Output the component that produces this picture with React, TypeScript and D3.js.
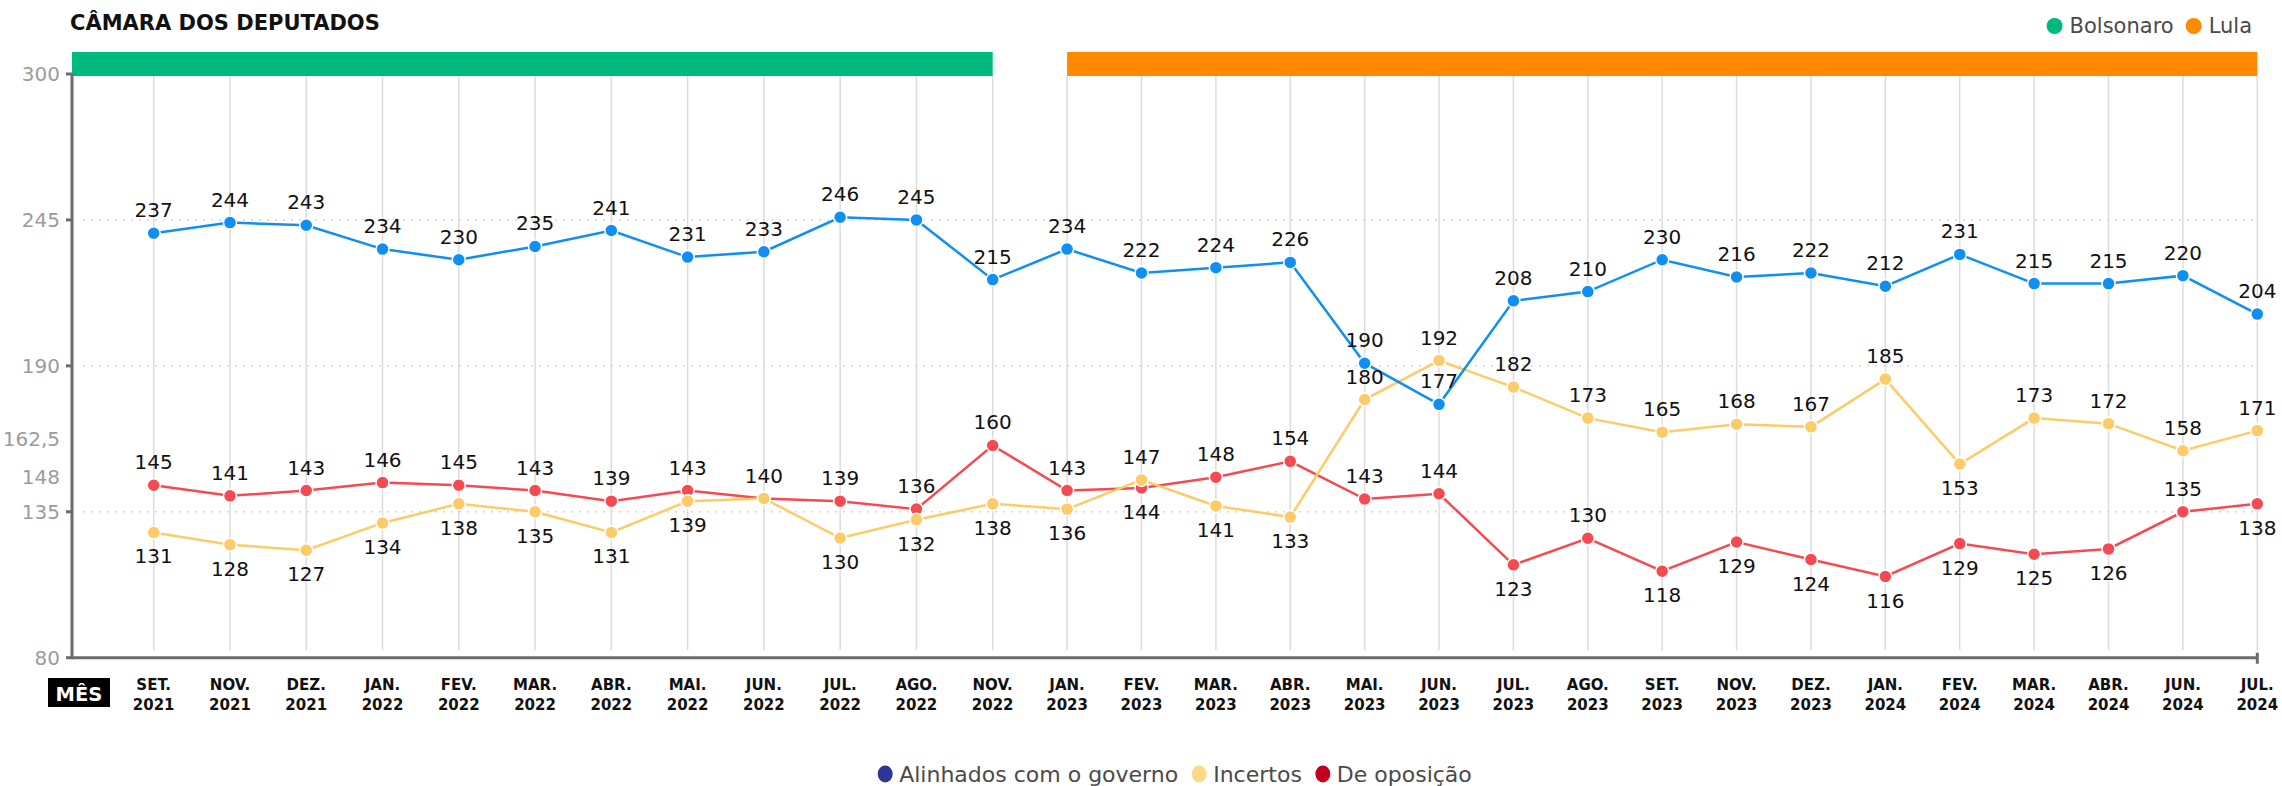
import React, { useEffect, useRef } from "react";
import * as d3 from "d3";

const categories = [
  "SET. 2021", "NOV. 2021", "DEZ. 2021", "JAN. 2022", "FEV. 2022", "MAR. 2022", "ABR. 2022",
  "MAI. 2022", "JUN. 2022", "JUL. 2022", "AGO. 2022", "NOV. 2022", "JAN. 2023", "FEV. 2023",
  "MAR. 2023", "ABR. 2023", "MAI. 2023", "JUN. 2023", "JUL. 2023", "AGO. 2023", "SET. 2023",
  "NOV. 2023", "DEZ. 2023", "JAN. 2024", "FEV. 2024", "MAR. 2024", "ABR. 2024", "JUN. 2024", "JUL. 2024",
];

// printed value labels
const alinhadosRotulos = [237, 244, 243, 234, 230, 235, 241, 231, 233, 246, 245, 215, 234, 222, 224, 226, 190, 177, 208, 210, 230, 216, 222, 212, 231, 215, 215, 220, 204];
const incertosRotulos = [131, 128, 127, 134, 138, 135, 131, 139, 140, 130, 132, 138, 136, 147, 141, 133, 180, 192, 182, 173, 165, 168, 167, 185, 153, 173, 172, 158, 171];
const oposicaoRotulos = [145, 141, 143, 146, 145, 143, 139, 143, 140, 139, 136, 160, 143, 144, 148, 154, 143, 144, 123, 130, 118, 129, 124, 116, 129, 125, 126, 135, 138];

const alinhados = [240, 244, 243, 234, 230, 235, 241, 231, 233, 246, 245, 222.5, 234, 225, 227, 229, 191, 175.5, 214.5, 218, 230, 223.5, 225, 220, 232, 221, 221, 224, 209.5];
const incertos = [127.2, 122.6, 120.5, 130.8, 138, 135, 127.2, 139, 140, 125.1, 132, 138, 136, 147, 137.2, 133, 177.3, 192, 182, 170.3, 165, 168, 167, 185, 153, 170.3, 168.2, 158, 165.6];
const oposicao = [145, 141, 143, 146, 145, 143, 139, 143, 140, 139, 136, 160, 143, 144, 148, 154, 139.8, 141.8, 115, 125, 112.6, 123.6, 117, 110.6, 123, 119, 121, 135, 138];

const yTicks = [300, 245, 190, 135, 80];
const yGridValues = [245, 190, 135];
const yExtraLabels = [162.5, 148];

const governments = [
  { name: "Bolsonaro", from: "SET. 2021", to: "NOV. 2022", color: "#00b97f", fromAxis: true },
  { name: "Lula", from: "JAN. 2023", to: "JUL. 2024", color: "#ff8a00", fromAxis: false },
];

const seriesLegend = [
  { name: "Alinhados com o governo", color: "#2c3696" },
  { name: "Incertos", color: "#ffd98a" },
  { name: "De oposição", color: "#c4001f" },
];

// label placement (which labels go under their point)
const incertosAboveIdx = [8, 13, 16, 17, 18, 19, 20, 21, 22, 23, 25, 26, 27, 28];
const oposicaoBelowIdx = [13, 18, 20, 21, 22, 23, 24, 25, 26, 28];

const W = 2282;
const H = 786;
const FONT = "'DejaVu Sans', sans-serif";

export default function App() {
  const ref = useRef<SVGSVGElement>(null);

  useEffect(() => {
    const svg = d3.select(ref.current);
    svg.selectAll("*").remove();

    const left = 72;
    const n = categories.length;
    const xi = d3.scaleLinear().domain([0, 11, n - 1]).range([153.7, 992.7, 2257.3]);
    const x = (c: string) => xi(categories.indexOf(c));
    const y = d3.scaleLinear().domain([80, 300]).range([657.7, 74]);
    const right = x(categories[n - 1]);

    const fmt = (v: number) => String(v).replace(".", ",");

    // title
    svg.append("text").attr("x", 70).attr("y", 30).attr("font-family", FONT)
      .attr("font-weight", 700).attr("font-size", 21).attr("fill", "#111")
      .text("CÂMARA DOS DEPUTADOS");

    // top legend (right aligned)
    {
      const g = svg.append("g");
      let cx = 2252;
      const items = governments.slice().reverse();
      items.forEach((it) => {
        const t = g.append("text").attr("font-family", FONT).attr("font-size", 21)
          .attr("fill", "#4a4a4a").attr("y", 33).text(it.name);
        const w = (t.node() as SVGTextElement).getComputedTextLength();
        t.attr("x", cx - w);
        g.append("circle").attr("cx", cx - w - 15).attr("cy", 26).attr("r", 8).attr("fill", it.color);
        cx = cx - w - 15 - 8 - 12;
      });
    }

    // government bars
    governments.forEach((gv) => {
      const x0 = gv.fromAxis ? left : x(gv.from);
      const x1 = x(gv.to);
      svg.append("rect").attr("x", x0).attr("y", 52).attr("width", x1 - x0).attr("height", 24).attr("fill", gv.color);
    });

    // vertical gridlines
    svg.append("g").selectAll("line").data(categories).join("line")
      .attr("x1", (d) => x(d)).attr("x2", (d) => x(d))
      .attr("y1", 76).attr("y2", 650)
      .attr("stroke", "#dcdcdc").attr("stroke-width", 1.5);

    // horizontal dotted grid
    svg.append("g").selectAll("line").data(yGridValues).join("line")
      .attr("x1", left + 11).attr("x2", right)
      .attr("y1", (d) => y(d)).attr("y2", (d) => y(d))
      .attr("stroke", "#d6d6d6").attr("stroke-width", 1.5).attr("stroke-dasharray", "2 6");

    // y axis
    svg.append("line").attr("x1", left).attr("x2", left).attr("y1", y(300)).attr("y2", y(80) + 1.5)
      .attr("stroke", "#6b6b6b").attr("stroke-width", 3);
    svg.append("g").selectAll("line").data(yTicks).join("line")
      .attr("x1", left - 6).attr("x2", left).attr("y1", (d) => y(d)).attr("y2", (d) => y(d))
      .attr("stroke", "#6b6b6b").attr("stroke-width", 3);
    svg.append("g").selectAll("text").data([...yTicks, ...yExtraLabels]).join("text")
      .attr("x", 60).attr("y", (d) => y(d) + 7).attr("text-anchor", "end")
      .attr("font-family", FONT).attr("font-size", 20).attr("fill", "#9b9b9b")
      .text((d) => fmt(d));

    // x axis
    svg.append("line").attr("x1", left).attr("x2", right).attr("y1", y(80)).attr("y2", y(80))
      .attr("stroke", "#6b6b6b").attr("stroke-width", 3);
    svg.append("line").attr("x1", right).attr("x2", right).attr("y1", y(80) - 5).attr("y2", y(80) + 6)
      .attr("stroke", "#6b6b6b").attr("stroke-width", 3);

    const xl = svg.append("g").selectAll("text").data(categories).join("text")
      .attr("font-family", FONT).attr("font-weight", 700).attr("font-size", 15)
      .attr("fill", "#111").attr("text-anchor", "middle");
    xl.append("tspan").attr("x", (d) => x(d)).attr("y", 690).text((d) => d.split(" ")[0]);
    xl.append("tspan").attr("x", (d) => x(d)).attr("y", 710).text((d) => d.split(" ")[1]);

    svg.append("rect").attr("x", 48).attr("y", 678).attr("width", 62).attr("height", 29).attr("fill", "#000");
    svg.append("text").attr("x", 79).attr("y", 700.5).attr("text-anchor", "middle")
      .attr("font-family", FONT).attr("font-weight", 700).attr("font-size", 19.5).attr("fill", "#fff").text("MÊS");

    // series
    const series = [
      { values: oposicao, labels: oposicaoRotulos, color: "#f64a53", below: (i: number) => oposicaoBelowIdx.includes(i) },
      { values: incertos, labels: incertosRotulos, color: "#fdcb67", below: (i: number) => !incertosAboveIdx.includes(i) },
      { values: alinhados, labels: alinhadosRotulos, color: "#0f8ff2", below: (_i: number) => false },
    ];
    const line = d3.line<number>().x((_d, i) => xi(i)).y((d) => y(d));
    series.forEach((s) => {
      svg.append("path").attr("d", line(s.values)).attr("fill", "none")
        .attr("stroke", s.color).attr("stroke-width", 2.5);
    });
    series.forEach((s) => {
      svg.append("g").selectAll("circle").data(s.values).join("circle")
        .attr("cx", (_d, i) => xi(i)).attr("cy", (d) => y(d)).attr("r", 6.5)
        .attr("fill", s.color).attr("stroke", "#fff").attr("stroke-width", 1.5);
    });
    const placed = new Set<string>();
    series.forEach((s) => {
      s.values.forEach((v, i) => {
        const ly = s.below(i) ? y(v) + 31 : y(v) - 16;
        const key = `${i}-${s.labels[i]}-${Math.round(ly / 4)}`;
        if (placed.has(key)) return;
        placed.add(key);
        svg.append("text").attr("x", xi(i)).attr("y", ly)
          .attr("text-anchor", "middle").attr("font-family", FONT).attr("font-size", 20)
          .attr("fill", "#111").text(String(s.labels[i]));
      });
    });

    // bottom legend (centered)
    {
      const g = svg.append("g");
      let cx = 0;
      seriesLegend.forEach((it) => {
        g.append("ellipse").attr("cx", cx + 7).attr("cy", 774).attr("rx", 7.5).attr("ry", 8.5).attr("fill", it.color);
        const t = g.append("text").attr("x", cx + 21).attr("y", 781.5).attr("font-family", FONT)
          .attr("font-size", 22).attr("fill", "#4a4a4a").text(it.name);
        cx += 21 + (t.node() as SVGTextElement).getComputedTextLength() + 14;
      });
      const total = cx - 14;
      g.attr("transform", `translate(${1175 - total / 2},0)`);
    }
  }, []);

  return (
    <div style={{ position: "fixed", left: 0, top: 0 }}>
      <svg ref={ref} width={W} height={H} style={{ display: "block", background: "#fff" }} />
    </div>
  );
}
